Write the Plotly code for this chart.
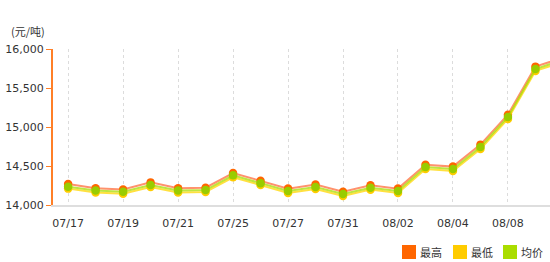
import plotly.graph_objects as go

dates = ["07/17", "07/18", "07/19", "07/20", "07/21", "07/24", "07/25", "07/26", "07/27",
         "07/28", "07/31", "08/01", "08/02", "08/03", "08/04", "08/07", "08/08", "08/09", "08/10"]
high = [14270, 14215, 14200, 14290, 14215, 14222, 14410, 14310, 14210, 14262, 14170, 14252,
        14210, 14517, 14492, 14774, 15158, 15774, 15890]
low = [14210, 14160, 14145, 14230, 14160, 14167, 14355, 14255, 14155, 14205, 14115, 14197,
       14155, 14462, 14437, 14719, 15103, 15719, 15835]
avg = [14235, 14185, 14170, 14255, 14185, 14192, 14380, 14280, 14180, 14230, 14140, 14222,
       14180, 14487, 14462, 14744, 15128, 15744, 15860]
tick_labels = ["07/17", "07/19", "07/21", "07/25", "07/27", "07/31", "08/02", "08/04", "08/08"]
y_ticks = [14000, 14500, 15000, 15500, 16000]
names = ["最高", "最低", "均价"]

W, H = 550, 262
L, R, T, B = 53, 0, 49, 57
PW, PH = W - L - R, H - T - B


def px(x):
    return (x - L) / PW


def py(y):
    return (H - B - y) / PH


fig = go.Figure()
series = [
    (high, "rgba(255,110,60,0.75)", "#FF6600"),
    (low, "rgba(255,215,0,0.75)", "#FFCC00"),
    (avg, "rgba(170,220,0,0.75)", "#99CC00"),
]
for (vals, lc, mc), nm in zip(series, names):
    fig.add_trace(go.Scatter(x=dates, y=vals, name=nm, mode="lines+markers",
                             line=dict(color=lc, width=2),
                             marker=dict(color=mc, size=8.5), showlegend=False,
                             hoverinfo="x+y+name"))

fig.update_xaxes(type="category", categoryorder="array", categoryarray=dates,
                 range=[-0.55, 17.53], tickmode="array", tickvals=tick_labels, ticktext=tick_labels,
                 showgrid=True, gridcolor="#dcdcdc", griddash="dot", gridwidth=1,
                 showline=True, linecolor="#dedede", linewidth=2, ticks="",
                 ticklabelstandoff=7,
                 tickfont=dict(family="DejaVu Sans", size=11, color="#333"), zeroline=False)
fig.update_yaxes(range=[14000, 16000], tickmode="array", tickvals=y_ticks, tickformat=",d",
                 showgrid=False, showline=True, linecolor="#FF7F27", linewidth=2,
                 ticks="outside", ticklen=5, tickcolor="#FF7F27", tickwidth=1,
                 tickfont=dict(family="DejaVu Sans", size=11, color="#333"), zeroline=False)

# unit label
fig.add_annotation(text="(元/吨)", xref="paper", yref="paper", x=px(9), y=py(31),
                   xanchor="left", yanchor="middle", showarrow=False,
                   font=dict(family="Noto Sans CJK SC", size=11, color="#333"))

# legend drawn as swatches + text
leg_colors = ["#FF6600", "#FFCC00", "#AADD00"]
leg_x = [402, 453, 503]
for x0, c, nm in zip(leg_x, leg_colors, names):
    fig.add_shape(type="rect", xref="paper", yref="paper", x0=px(x0), x1=px(x0 + 14),
                  y0=py(259), y1=py(245), fillcolor=c, line=dict(width=0))
    fig.add_annotation(text=nm, xref="paper", yref="paper", x=px(x0 + 16), y=py(252),
                       xanchor="left", yanchor="middle", showarrow=False,
                       font=dict(family="Noto Sans CJK SC", size=11, color="#333"))

fig.update_layout(width=W, height=H, margin=dict(l=L, r=R, t=T, b=B),
                  paper_bgcolor="white", plot_bgcolor="white", showlegend=False)

fig.write_html("out.html")
